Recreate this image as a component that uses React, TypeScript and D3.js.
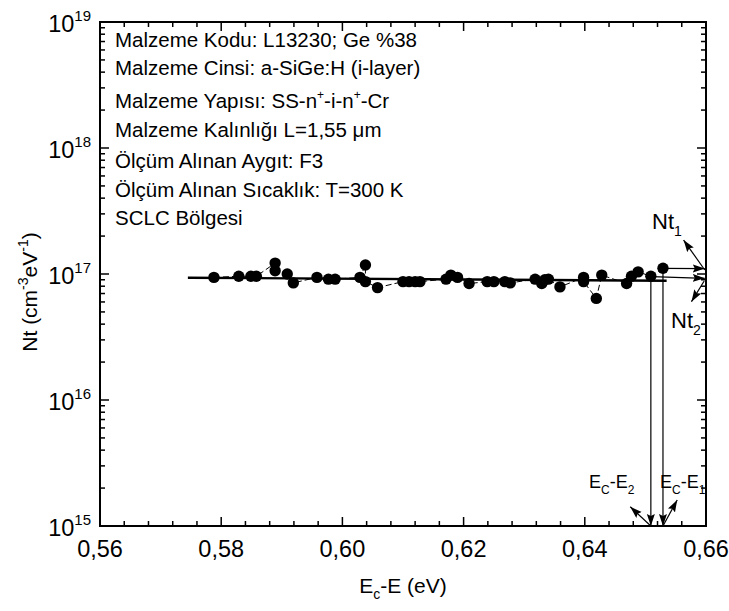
import React from "react";
import * as d3 from "d3";

// ---------- data ----------
const ecE: number[] = [
  0.5788, 0.5829, 0.5849, 0.5858, 0.5889, 0.5889, 0.5909, 0.5919, 0.5958, 0.5977,
  0.5988, 0.6029, 0.6038, 0.6038, 0.6058, 0.61, 0.611, 0.612, 0.6128, 0.6171,
  0.6179, 0.619, 0.6209, 0.6239, 0.625, 0.6268, 0.6277, 0.6318, 0.6329, 0.6334,
  0.634, 0.6359, 0.6398, 0.6398, 0.6419, 0.6428, 0.6469, 0.6477, 0.6488, 0.6509,
  0.6529,
];
const ntE17: number[] = [
  0.94, 0.96, 0.96, 0.96, 1.22, 1.06, 1.0, 0.85, 0.94, 0.91,
  0.91, 0.94, 1.18, 0.87, 0.78, 0.87, 0.87, 0.87, 0.87, 0.91,
  0.98, 0.94, 0.84, 0.87, 0.87, 0.87, 0.85, 0.91, 0.84, 0.9,
  0.91, 0.79, 0.94, 0.87, 0.64, 0.98, 0.84, 0.96, 1.04, 0.96,
  1.11,
];
const fitX: number[] = [0.5745, 0.6535];
const fitN: number[] = [0.935e17, 0.885e17];

const xTicks: number[] = [0.56, 0.58, 0.6, 0.62, 0.64, 0.66];
const xTickLabels: string[] = ["0,56", "0,58", "0,60", "0,62", "0,64", "0,66"];
const yExponents: number[] = [15, 16, 17, 18, 19];

const infoLines: string[] = [
  "Malzeme Kodu: L13230; Ge %38",
  "Malzeme Cinsi: a-SiGe:H (i-layer)",
  "Malzeme Yapısı: SS-n+-i-n+-Cr",
  "Malzeme Kalınlığı L=1,55 μm",
  "Ölçüm Alınan Aygıt: F3",
  "Ölçüm Alınan Sıcaklık: T=300 K",
  "SCLC Bölgesi",
];

// energies marked by arrows
const e2 = 0.6509;
const e1 = 0.6529;

const FONT = "'Liberation Sans', Arial, Helvetica, sans-serif";

export default function App() {
  const W = 729, H = 611;
  const L = 100, R = 706, T = 22, B = 526;
  const x = d3.scaleLinear().domain([0.56, 0.66]).range([L, R]);
  const y = d3.scaleLog().domain([1e15, 1e19]).range([B, T]);

  const pts = ecE.map((e, i) => ({ e, n: ntE17[i] * 1e17 }));
  const line = d3.line<{ e: number; n: number }>().x(d => x(d.e)).y(d => y(d.n));

  const xMinor: number[] = d3.range(0.56, 0.6601, 0.004).map(v => +v.toFixed(3));
  const yMinor: number[] = [];
  for (let k = 15; k < 19; k++) for (let m = 2; m <= 9; m++) yMinor.push(m * Math.pow(10, k));

  const fitPts = fitX.map((e, i) => ({ e, n: fitN[i] }));

  const infoBase = [47, 75, 108, 137, 168, 197, 225];

  const renderInfo = (s: string, i: number) => {
    const yy = infoBase[i];
    if (i === 2) {
      return (
        <text key={i} x={115} y={yy} fontSize={20.5} fontFamily={FONT}>
          Malzeme Yapısı: SS-n<tspan fontSize={12} dy={-9}>+</tspan>
          <tspan dy={9}>-i-n</tspan>
          <tspan fontSize={12} dy={-9}>+</tspan>
          <tspan dy={9}>-Cr</tspan>
        </text>
      );
    }
    return (
      <text key={i} x={115} y={yy} fontSize={20.5} fontFamily={FONT}>
        {s}
      </text>
    );
  };

  const thin = 1.2;

  return (
    <svg width={W} height={H} style={{ position: "absolute", left: 0, top: 0, background: "#fff" }}>
      <defs>
        <marker id="ah" markerUnits="userSpaceOnUse" markerWidth={14} markerHeight={10}
          refX={12} refY={4} orient="auto">
          <path d="M0,0 L12,4 L0,8 L2,4 z" fill="#000" />
        </marker>
      </defs>
      <rect x={0} y={0} width={W} height={H} fill="#fff" />

      {/* ticks */}
      {xMinor.map((v, i) => {
        const major = xTicks.some(t => Math.abs(t - v) < 1e-6);
        const len = major ? 9 : 5;
        return (
          <g key={"xt" + i} stroke="#000" strokeWidth={1.5}>
            <line x1={x(v)} x2={x(v)} y1={B} y2={B - len} />
            <line x1={x(v)} x2={x(v)} y1={T} y2={T + len} />
          </g>
        );
      })}
      {yExponents.map(k => (
        <g key={"ym" + k} stroke="#000" strokeWidth={1.5}>
          <line x1={L} x2={L + 9} y1={y(Math.pow(10, k))} y2={y(Math.pow(10, k))} />
          <line x1={R} x2={R - 9} y1={y(Math.pow(10, k))} y2={y(Math.pow(10, k))} />
        </g>
      ))}
      {yMinor.map((v, i) => (
        <g key={"yn" + i} stroke="#000" strokeWidth={1.5}>
          <line x1={L} x2={L + 5} y1={y(v)} y2={y(v)} />
          <line x1={R} x2={R - 5} y1={y(v)} y2={y(v)} />
        </g>
      ))}

      {/* frame */}
      <rect x={L} y={T} width={R - L} height={B - T} fill="none" stroke="#000" strokeWidth={2} />

      {/* tick labels */}
      {xTicks.map((v, i) => (
        <text key={"xl" + i} x={x(v)} y={557} textAnchor="middle" fontSize={23.5} fontFamily={FONT}>
          {xTickLabels[i]}
        </text>
      ))}
      {yExponents.map(k => (
        <text key={"yl" + k} x={91} y={y(Math.pow(10, k)) + 10} textAnchor="end" fontSize={23.5} fontFamily={FONT}>
          10<tspan fontSize={15} dy={-11}>{k}</tspan>
        </text>
      ))}

      {/* axis titles */}
      <text x={403} y={593} textAnchor="middle" fontSize={21} fontFamily={FONT}>
        E<tspan fontSize={14} dy={6}>c</tspan>
        <tspan dy={-6}>-E (eV)</tspan>
      </text>
      <text transform="translate(37,292) rotate(-90)" textAnchor="middle" fontSize={21} fontFamily={FONT}>
        Nt (cm<tspan fontSize={14} dy={-9}>-3</tspan>
        <tspan dy={9}>eV</tspan>
        <tspan fontSize={14} dy={-9}>-1</tspan>
        <tspan dy={9}>)</tspan>
      </text>

      {/* info text */}
      {infoLines.map(renderInfo)}

      {/* connecting dashed line */}
      <path d={line(pts) || ""} fill="none" stroke="#000" strokeWidth={1} strokeDasharray="6,3" />
      {/* fit line */}
      <path d={line(fitPts) || ""} fill="none" stroke="#000" strokeWidth={2.4} />

      {/* points */}
      {pts.map((p, i) => (
        <circle key={"p" + i} cx={x(p.e)} cy={y(p.n)} r={5.7} fill="#000" />
      ))}

      {/* vertical arrows to the energy axis */}
      <line x1={x(e2)} x2={x(e2)} y1={y(0.885e17)} y2={y(1e15)} stroke="#000" strokeWidth={thin} markerEnd="url(#ah)" />
      <line x1={x(e1)} x2={x(e1)} y1={y(1.11e17)} y2={y(1e15)} stroke="#000" strokeWidth={thin} markerEnd="url(#ah)" />
      {/* horizontal arrows to Nt axis */}
      <line x1={x(e1)} x2={x(0.6598)} y1={y(1.11e17)} y2={y(1.105e17)} stroke="#000" strokeWidth={thin} markerEnd="url(#ah)" />
      <line x1={x(0.6511)} x2={x(0.6598)} y1={y(0.952e17)} y2={y(0.924e17)} stroke="#000" strokeWidth={thin} markerEnd="url(#ah)" />
      {/* label pointer arrows */}
      <line x1={x(0.6598)} x2={x(0.6563)} y1={y(1.076e17)} y2={y(1.86e17)} stroke="#000" strokeWidth={thin} markerEnd="url(#ah)" />
      <line x1={x(0.6597)} x2={x(0.6576)} y1={y(0.88e17)} y2={y(0.603e17)} stroke="#000" strokeWidth={thin} markerEnd="url(#ah)" />
      <line x1={x(e2)} x2={x(0.6475)} y1={y(1e15)} y2={y(1.42e15)} stroke="#000" strokeWidth={thin} markerEnd="url(#ah)" />
      <line x1={x(e1)} x2={x(0.65525)} y1={y(1e15)} y2={y(1.61e15)} stroke="#000" strokeWidth={thin} markerEnd="url(#ah)" />

      {/* arrow labels */}
      <text x={652} y={229} fontSize={22} fontFamily={FONT}>
        Nt<tspan fontSize={14} dy={7}>1</tspan>
      </text>
      <text x={671} y={328} fontSize={22} fontFamily={FONT}>
        Nt<tspan fontSize={14} dy={7}>2</tspan>
      </text>
      <text x={589} y={488} fontSize={18} fontFamily={FONT}>
        E<tspan fontSize={12} dy={6}>C</tspan>
        <tspan dy={-6}>-E</tspan>
        <tspan fontSize={12} dy={6}>2</tspan>
      </text>
      <text x={660} y={488} fontSize={18} fontFamily={FONT}>
        E<tspan fontSize={12} dy={6}>C</tspan>
        <tspan dy={-6}>-E</tspan>
        <tspan fontSize={12} dy={6}>1</tspan>
      </text>
    </svg>
  );
}
